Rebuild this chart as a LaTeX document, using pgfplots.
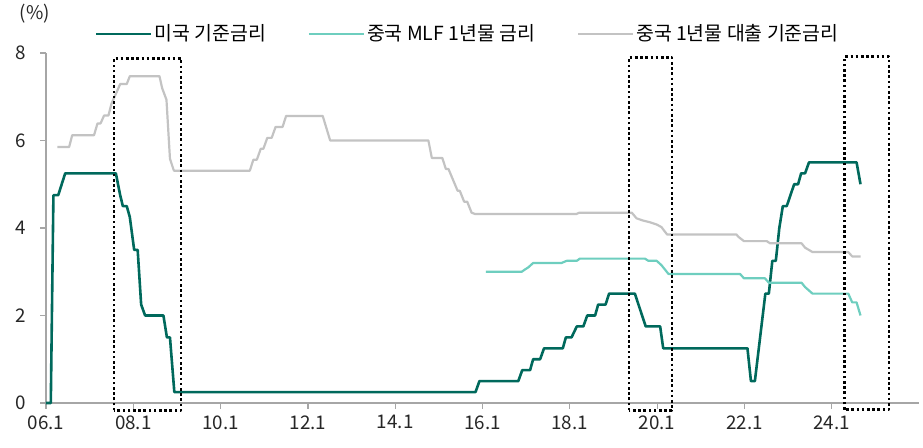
\documentclass[border=0pt]{standalone}
\usepackage{fontspec}
\setmainfont{Noto Sans CJK KR}
\usepackage{pgfplots}
\pgfplotsset{compat=1.18}
\definecolor{usc}{HTML}{00695C}
\definecolor{mlf}{HTML}{6ECEBF}
\definecolor{lpr}{HTML}{C3C3C3}
\definecolor{axc}{HTML}{A6A6A6}
\begin{document}
\fontsize{9pt}{11pt}\selectfont
\begin{tikzpicture}
\begin{axis}[
  scale only axis, width=436.5pt, height=175pt,
  xmin=2006, xmax=2026, ymin=0, ymax=8,
  axis x line*=bottom, axis y line*=left,
  axis line style={axc, line width=0.6pt},
  xtick={2006,2008,...,2024},
  xticklabels={06.1,08.1,10.1,12.1,14.1,16.1,18.1,20.1,22.1,24.1},
  ytick={0,2,4,6,8},
  tick align=outside, major tick length=3pt,
  tick style={axc, line width=0.6pt},
  /pgf/number format/assume math mode=true,
  tick label style={font=\fontsize{9.4pt}{11pt}\selectfont, text=black!85},
  yticklabel style={xshift=-4pt},
  legend columns=3,
  legend style={draw=none, fill=none, at={(0.483,1.054)}, anchor=center,
    font=\fontsize{9.7pt}{11pt}\selectfont, nodes={inner xsep=1pt},
    /tikz/every even column/.append style={column sep=20pt}},
  legend image code/.code={\draw[#1] (0pt,0pt) -- (27.5pt,0pt);},
  clip=false,
  line join=round,
]
\addplot[usc, line width=1.3pt] coordinates {
(2006.00,0) (2006.11,0) (2006.17,4.75) (2006.28,4.75) (2006.44,5.25) (2007.60,5.25)
(2007.70,4.75) (2007.76,4.5) (2007.85,4.5) (2007.92,4.25) (2008.02,3.5) (2008.10,3.5)
(2008.18,2.25) (2008.27,2.0) (2008.69,2.0) (2008.77,1.5) (2008.84,1.5) (2008.94,0.25)
(2015.84,0.25) (2015.93,0.5) (2016.82,0.5) (2016.91,0.75) (2017.09,0.75) (2017.16,1.0)
(2017.32,1.0) (2017.41,1.25) (2017.84,1.25) (2017.91,1.5) (2018.04,1.5) (2018.16,1.75)
(2018.31,1.75) (2018.40,2.0) (2018.58,2.0) (2018.65,2.25) (2018.82,2.25) (2018.90,2.5)
(2019.49,2.5) (2019.74,1.75) (2020.07,1.75) (2020.14,1.25) (2022.07,1.25) (2022.15,0.5)
(2022.24,0.5) (2022.48,2.5) (2022.56,2.5) (2022.64,3.25) (2022.72,3.25) (2022.80,4.0)
(2022.88,4.5) (2022.97,4.5) (2023.14,5.0) (2023.23,5.0) (2023.30,5.25) (2023.39,5.25)
(2023.48,5.5) (2024.57,5.5) (2024.66,5.0)
};
\addlegendentry{미국 기준금리}
\addplot[mlf, line width=1.1pt] coordinates {
(2016.08,3.0) (2016.90,3.0) (2016.97,3.05) (2017.05,3.1) (2017.16,3.2) (2017.81,3.2)
(2017.93,3.25) (2018.16,3.25) (2018.23,3.3) (2019.72,3.3) (2019.80,3.25) (2019.99,3.25)
(2020.10,3.15) (2020.26,2.95) (2021.90,2.95) (2021.99,2.85) (2022.47,2.85) (2022.56,2.75)
(2023.31,2.75) (2023.39,2.65) (2023.56,2.5) (2024.38,2.5) (2024.47,2.3) (2024.57,2.3)
(2024.66,2.0)
};
\addlegendentry{중국 MLF 1년물 금리}
\addplot[lpr, line width=1.1pt] coordinates {
(2006.26,5.85) (2006.53,5.85) (2006.60,6.12) (2007.10,6.12) (2007.18,6.39) (2007.25,6.39)
(2007.33,6.57) (2007.43,6.57) (2007.50,6.84) (2007.58,7.02) (2007.70,7.29) (2007.85,7.29)
(2007.92,7.47) (2008.60,7.47) (2008.66,7.2) (2008.76,6.93) (2008.84,5.58) (2008.93,5.31)
(2010.67,5.31) (2010.75,5.56) (2010.83,5.56) (2010.92,5.81) (2010.98,5.81) (2011.07,6.06)
(2011.17,6.06) (2011.26,6.31) (2011.42,6.31) (2011.50,6.56) (2012.34,6.56) (2012.51,6.0)
(2014.76,6.0) (2014.84,5.6) (2015.08,5.6) (2015.16,5.35) (2015.22,5.35) (2015.43,4.85)
(2015.48,4.85) (2015.58,4.6) (2015.65,4.6) (2015.75,4.35) (2015.83,4.32) (2018.15,4.32)
(2018.22,4.35) (2019.42,4.35) (2019.53,4.22) (2019.68,4.17) (2019.84,4.13) (2019.99,4.08)
(2020.10,4.02) (2020.23,3.85) (2021.82,3.85) (2021.86,3.8) (2021.99,3.7) (2022.51,3.7)
(2022.59,3.65) (2023.31,3.65) (2023.39,3.55) (2023.56,3.45) (2024.38,3.45) (2024.47,3.35)
(2024.66,3.35)
};
\addlegendentry{중국 1년물 대출 기준금리}
\draw[black, line width=1.3pt, dash pattern=on 1.3pt off 1.3pt]
  (axis cs:2007.56,-0.17) rectangle (axis cs:2009.09,7.88);
\draw[black, line width=1.3pt, dash pattern=on 1.3pt off 1.3pt]
  (axis cs:2019.36,-0.17) rectangle (axis cs:2020.34,7.90);
\draw[black, line width=1.3pt, dash pattern=on 1.3pt off 1.3pt]
  (axis cs:2024.30,-0.15) rectangle (axis cs:2025.31,7.92);
\node[anchor=center, text=black!85, font=\fontsize{9.4pt}{11pt}\selectfont] at (rel axis cs:0,1) [xshift=-5.5pt, yshift=19.5pt] {(\%)};
\end{axis}
\pgfresetboundingbox
\path (current axis.south west) ++(-23pt,-22.5pt) rectangle ++(461.5pt,224pt);
\end{tikzpicture}
\end{document}
